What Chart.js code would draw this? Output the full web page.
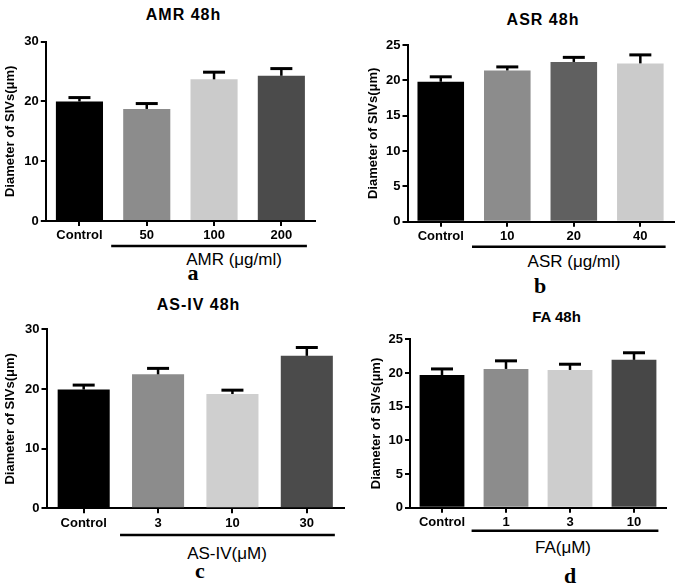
<!DOCTYPE html>
<html>
<head>
<meta charset="utf-8">
<script src="https://cdn.jsdelivr.net/npm/chart.js@4.4.0/dist/chart.umd.min.js"></script>
<style>
  body{margin:0;background:#fff;width:685px;height:586px;position:relative;overflow:hidden;font-family:"Liberation Sans",Arial,sans-serif}
  canvas{position:absolute}
  .t{position:absolute;transform:translate(-50%,-50%);white-space:nowrap;color:#000;line-height:1}
  .title{font-weight:bold;font-size:16px;letter-spacing:1px}
  .grp{font-size:17px}
  .let{font-family:"Liberation Serif","Times New Roman",serif;font-weight:bold;font-size:22px}
</style>
</head>
<body>
<div class="t title" style="left:183.5px;top:15px">AMR 48h</div>
<div class="t title" style="left:543px;top:19.5px">ASR 48h</div>
<div class="t title" style="left:198.5px;top:305px">AS-IV 48h</div>
<div class="t title" style="left:556.5px;top:316px;font-size:15px;letter-spacing:0">FA 48h</div>

<div class="t grp" style="left:234px;top:259px">AMR (μg/ml)</div>
<div class="t grp" style="left:574px;top:261px">ASR (μg/ml)</div>
<div class="t grp" style="left:227px;top:553px">AS-IV(μM)</div>
<div class="t grp" style="left:563px;top:547px">FA(μM)</div>

<div class="t let" style="left:193px;top:273px">a</div>
<div class="t let" style="left:540px;top:285.5px">b</div>
<div class="t let" style="left:200px;top:570.5px">c</div>
<div class="t let" style="left:570px;top:575.5px">d</div>

<canvas id="chartA"></canvas>
<canvas id="chartB"></canvas>
<canvas id="chartC"></canvas>
<canvas id="chartD"></canvas>

<script>
// data (mean + upper SEM)
var amrLabels = ['Control', '50', '100', '200'];
var amrMeans  = [20.0, 18.75, 23.7, 24.3];
var amrSem    = [0.65, 0.9, 1.2, 1.2];

var asrLabels = ['Control', '10', '20', '40'];
var asrMeans  = [19.8, 21.4, 22.6, 22.4];
var asrSem    = [0.7, 0.5, 0.65, 1.2];

var asivLabels = ['Control', '3', '10', '30'];
var asivMeans  = [19.9, 22.45, 19.15, 25.55];
var asivSem    = [0.75, 1.0, 0.65, 1.4];

var faLabels = ['Control', '1', '3', '10'];
var faMeans  = [19.7, 20.6, 20.45, 21.95];
var faSem    = [0.9, 1.2, 0.85, 1.05];

var yTitle = 'Diameter of SIVs(μm)';
var fontFam = '"Liberation Sans", Arial, sans-serif';

var errorBars = {
  id: 'errorBars',
  afterDatasetsDraw: function(chart, args, opts){
    var ctx = chart.ctx;
    var meta = chart.getDatasetMeta(0);
    var y = chart.scales.y;
    ctx.save();
    ctx.strokeStyle = '#000';
    meta.data.forEach(function(bar, i){
      var top = y.getPixelForValue(opts.means[i] + opts.sem[i]);
      ctx.lineWidth = 2.5;
      ctx.beginPath(); ctx.moveTo(bar.x, bar.y); ctx.lineTo(bar.x, top); ctx.stroke();
      ctx.lineWidth = 3;
      ctx.beginPath(); ctx.moveTo(bar.x - 11, top); ctx.lineTo(bar.x + 11, top); ctx.stroke();
    });
    // line under the treated groups
    var first = meta.data[1], last = meta.data[meta.data.length - 1];
    var ly = chart.chartArea.bottom + opts.lineGap;
    ctx.lineWidth = 2.5;
    ctx.beginPath();
    ctx.moveTo(first.x - first.width / 2 - 12, ly);
    ctx.lineTo(last.x + last.width / 2 + 2, ly);
    ctx.stroke();
    ctx.restore();
  }
};

function drawBarChart(id, labels, means, sem, colors, yMax, yStep, box){
  var canvas = document.getElementById(id);
  canvas.style.left = box.x0 + 'px';
  canvas.style.top = box.y0 + 'px';
  canvas.width = box.w;
  canvas.height = box.h;
  var padLeft = box.titleX - box.x0 - 9.8;
  var yWidth = box.left - box.x0 - padLeft;
  var xHeight = box.y0 + box.h - box.bottom;

  return new Chart(canvas.getContext('2d'), {
    type: 'bar',
    plugins: [errorBars],
    data: {
      labels: labels,
      datasets: [{
        data: means,
        backgroundColor: colors,
        borderWidth: 0,
        barPercentage: 0.7,
        categoryPercentage: 1.0
      }]
    },
    options: {
      responsive: false,
      animation: false,
      devicePixelRatio: 1,
      layout: {
        padding: {
          left: padLeft,
          top: box.top - box.y0,
          right: box.x0 + box.w - box.right,
          bottom: 0
        }
      },
      scales: {
        x: {
          offset: true,
          grid: {
            display: true,
            offset: false,
            drawOnChartArea: false,
            drawTicks: true,
            tickLength: 5,
            color: '#000',
            lineWidth: 2
          },
          border: { display: true, color: '#000', width: 2 },
          ticks: {
            color: '#000',
            padding: 2,
            maxRotation: 0,
            font: { family: fontFam, size: 13, weight: 'bold' }
          },
          afterFit: function(s){ s.height = xHeight; }
        },
        y: {
          min: 0,
          max: yMax,
          grid: {
            drawOnChartArea: false,
            tickLength: 5,
            color: '#000',
            lineWidth: 2
          },
          border: { display: true, color: '#000', width: 2 },
          ticks: {
            stepSize: yStep,
            color: '#000',
            padding: 2,
            font: { family: fontFam, size: 13, weight: 'bold' }
          },
          title: {
            display: true,
            text: yTitle,
            color: '#000',
            padding: { top: 2, bottom: 0 },
            font: { family: fontFam, size: 13, weight: 'bold' }
          },
          afterFit: function(s){ s.width = yWidth; }
        }
      },
      plugins: {
        legend: { display: false },
        title: { display: false },
        tooltip: { enabled: false },
        errorBars: { means: means, sem: sem, lineGap: box.lineY - box.bottom }
      }
    }
  });
}

drawBarChart('chartA', amrLabels, amrMeans, amrSem,
  ['#000000', '#8c8c8c', '#cbcbcb', '#4b4b4b'], 30, 10,
  { x0: 0, y0: 25, w: 335, h: 230, left: 45.8, right: 315, top: 41.7, bottom: 221, titleX: 10, lineY: 246 });

drawBarChart('chartB', asrLabels, asrMeans, asrSem,
  ['#000000', '#8c8c8c', '#606060', '#cbcbcb'], 25, 5,
  { x0: 340, y0: 25, w: 345, h: 230, left: 407.5, right: 673.6, top: 45, bottom: 221.7, titleX: 373, lineY: 246.7 });

drawBarChart('chartC', asivLabels, asivMeans, asivSem,
  ['#000000', '#8c8c8c', '#cfcfcf', '#4b4b4b'], 30, 10,
  { x0: 0, y0: 315, w: 345, h: 230, left: 46.5, right: 344, top: 329.3, bottom: 508.3, titleX: 10, lineY: 535 });

drawBarChart('chartD', faLabels, faMeans, faSem,
  ['#000000', '#8c8c8c', '#cdcdcd', '#474747'], 25, 5,
  { x0: 340, y0: 315, w: 345, h: 230, left: 410, right: 666, top: 339.3, bottom: 507.7, titleX: 376.7, lineY: 530.7 });
</script>
</body>
</html>
